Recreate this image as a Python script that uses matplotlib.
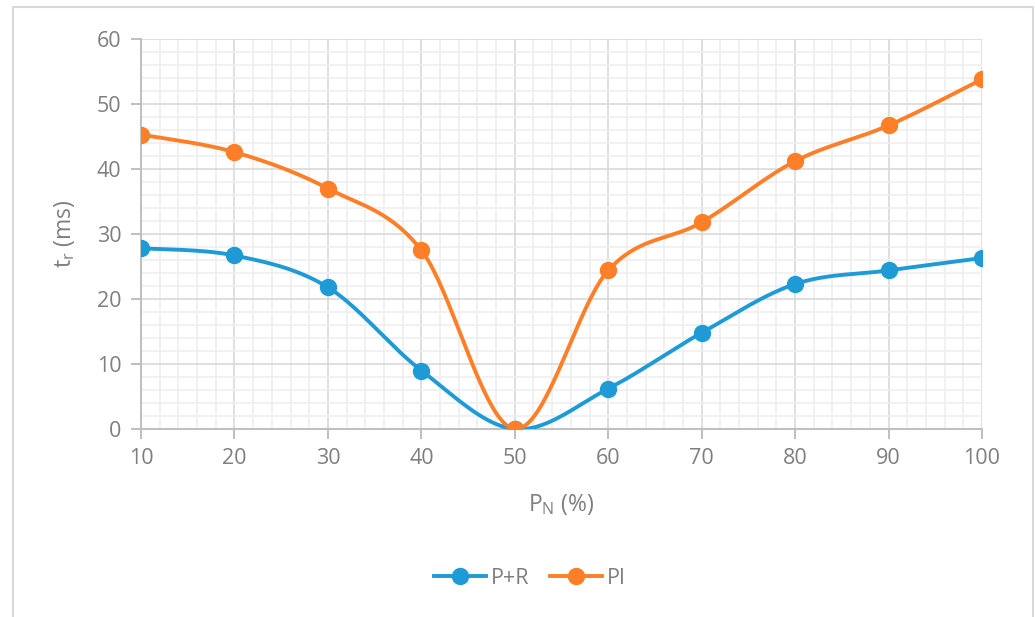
import matplotlib
matplotlib.use("Agg")
import matplotlib.pyplot as plt
import numpy as np
from matplotlib.patches import Rectangle
from matplotlib.lines import Line2D
from matplotlib.ticker import MultipleLocator

plt.rcParams['font.family'] = ['Open Sans', 'DejaVu Sans']

x_vals = [10, 20, 30, 40, 50, 60, 70, 80, 90, 100]
pr_vals = [27.8, 26.7, 21.8, 9.0, 0.0, 6.2, 14.8, 22.3, 24.4, 26.3]
pi_vals = [45.3, 42.6, 37.0, 27.5, 0.0, 24.4, 31.8, 41.2, 46.7, 53.8]
series_names = ["P+R", "PI"]
colors = ["#1E9BD7", "#FE7F27"]

TXT = "#7F7F7F"
FS = 15.5


def smooth(xs, ys, n=40):
    xs = np.asarray(xs, float)
    ys = np.asarray(ys, float)
    P = np.column_stack([xs, ys])
    out = []
    m = len(P)
    for i in range(m - 1):
        p0 = P[i - 1] if i > 0 else P[i]
        p1 = P[i]
        p2 = P[i + 1]
        p3 = P[i + 2] if i + 2 < m else P[i + 1]
        c1 = p1 + (p2 - p0) / 6.0
        c2 = p2 - (p3 - p1) / 6.0
        t = np.linspace(0, 1, n)[:, None]
        seg = ((1 - t) ** 3) * p1 + 3 * ((1 - t) ** 2) * t * c1 + 3 * (1 - t) * t ** 2 * c2 + t ** 3 * p2
        if i > 0:
            seg = seg[1:]
        out.append(seg)
    out = np.vstack(out)
    return out[:, 0], out[:, 1]


fig = plt.figure(figsize=(10.35, 6.17), dpi=100)
fig.patches.append(Rectangle((13 / 1035, -0.05), (1033 - 13) / 1035, 1.05 - 7 / 617,
                             transform=fig.transFigure, fill=False,
                             edgecolor="#D9D9D9", linewidth=1.5))

ax = fig.add_axes([141 / 1035, 1 - 429 / 617, (982 - 141) / 1035, (429 - 39) / 617])

for ys, c, name in zip([pr_vals, pi_vals], colors, series_names):
    sx, sy = smooth(x_vals, ys)
    ax.plot(sx, sy, color=c, lw=2.8, solid_capstyle='round', zorder=3)
    ax.plot(x_vals, ys, 'o', color=c, ms=11.5, zorder=4)

ax.set_xlim(10, 100)
ax.set_ylim(0, 60)
ax.xaxis.set_major_locator(MultipleLocator(10))
ax.xaxis.set_minor_locator(MultipleLocator(2))
ax.yaxis.set_major_locator(MultipleLocator(10))
ax.yaxis.set_minor_locator(MultipleLocator(2))
ax.grid(which='minor', color='#EFEFEF', lw=1.2, zorder=0)
ax.grid(which='major', color='#D9D9D9', lw=1.2, zorder=1)
ax.set_axisbelow(True)

for s in ['top', 'right']:
    ax.spines[s].set_visible(False)
for s in ['left', 'bottom']:
    ax.spines[s].set_color('#BFBFBF')
    ax.spines[s].set_linewidth(1.4)

ax.tick_params(which='major', length=7, width=1.4, color='#BFBFBF', labelcolor=TXT,
               labelsize=FS, pad=7)
ax.tick_params(which='minor', length=0)

ax.set_xlabel(r'$\mathregular{P_N}$ (%)', color=TXT, fontsize=16.5, labelpad=16)
ax.set_ylabel(r'$\mathregular{t_r}$ (ms)', color=TXT, fontsize=16.5, labelpad=14)

handles = [Line2D([], [], color=c, lw=2.8, marker='o', ms=11.5) for c in colors]
fig.legend(handles, series_names, loc='center', bbox_to_anchor=(0.512, 0.063), ncol=2,
           frameon=False, fontsize=FS, labelcolor=TXT, handlelength=2.4,
           columnspacing=1.0, handletextpad=0.2)

fig.savefig("out.png", dpi=100)
